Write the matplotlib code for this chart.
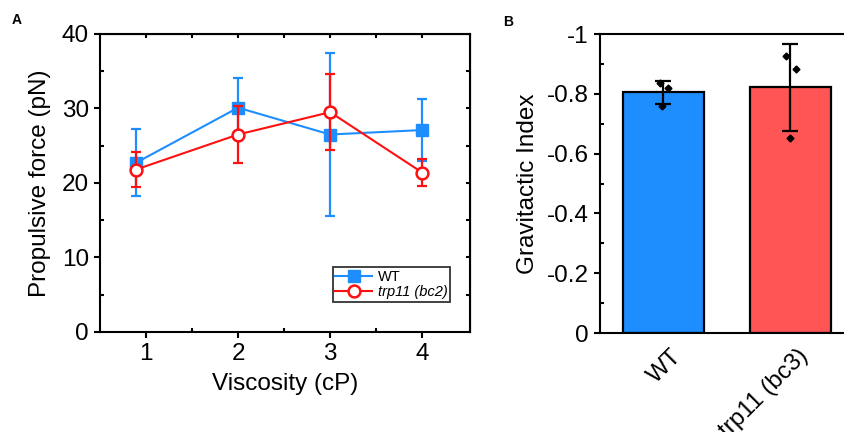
#!/usr/bin/env python3

import numpy as np
import matplotlib
matplotlib.use( 'Agg' )
import matplotlib.pyplot as plt
import matplotlib.transforms as mtransforms

plt.rcParams['font.family'] = [ 'Liberation Sans', 'DejaVu Sans' ]

#### ========== Data ==========

# Panel A: propulsive force vs viscosity
viscosity = [ 0.89, 2.0, 3.0, 4.0 ]
wt_force  = [ 22.7, 30.1, 26.5, 27.1 ]
wt_err    = [ 4.5, 4.0, 10.9, 4.2 ]
mut_force = [ 21.8, 26.5, 29.5, 21.4 ]
mut_err   = [ 2.3, 3.8, 5.1, 1.85 ]

visc_ticks = [ 1, 2, 3, 4 ]
force_ticks = [ 0, 10, 20, 30, 40 ]

# Panel B: gravitactic index
strains    = [ 'WT', 'trp11 (bc3)' ]
gi_mean    = [ -0.805, -0.822 ]
gi_sd      = [ 0.038, 0.145 ]
gi_pts_wt  = [ -0.835, -0.820, -0.759 ]
gi_pts_mut = [ -0.927, -0.882, -0.653 ]
jit_wt     = [ -0.03, 0.035, -0.01 ]
jit_mut    = [ -0.036, 0.04, 0.0 ]

gi_ticks  = [ 0, -0.2, -0.4, -0.6, -0.8, -1.0 ]
gi_labels = [ '0', '-0.2', '-0.4', '-0.6', '-0.8', '-1' ]

blue    = '#1E8EFF'
red     = '#FF1010'
bar_red = '#FF5555'

#### ========== Plotting ==========

fig = plt.figure( figsize = ( 8.44, 4.32 ), dpi = 100 )

### Panel A

axA = fig.add_axes( [ 0.1185, 0.2315, 0.4384, 0.690 ] )

axA.errorbar( viscosity, wt_force, yerr = wt_err, fmt = 'none', \
              ecolor = blue, elinewidth = 1.6, capsize = 3.5, capthick = 1.6 )
axA.plot( viscosity, wt_force, '-s', color = blue, lw = 1.5, \
          ms = 8.5, mfc = blue, mec = blue, label = 'WT' )
axA.errorbar( viscosity, mut_force, yerr = mut_err, fmt = 'none', \
              ecolor = red, elinewidth = 1.6, capsize = 3.5, capthick = 1.6 )
axA.plot( viscosity, mut_force, '-o', color = red, lw = 1.5, \
          ms = 8.5, mfc = 'white', mec = red, mew = 1.8, \
          label = 'trp11 (bc2)' )

axA.set_xlim( 0.5, 4.52 )
axA.set_ylim( 0, 40 )
axA.set_xticks( visc_ticks )
axA.set_xticks( [ 1.5, 2.5, 3.5 ], minor = True )
axA.set_yticks( force_ticks )
axA.set_yticks( [ 5, 15, 25, 35 ], minor = True )
axA.tick_params( which = 'major', direction = 'out', length = 4, width = 1.5, \
                 labelsize = 17.5, pad = 4 )
axA.tick_params( which = 'minor', direction = 'in', length = 3, width = 1.5 )
for s in axA.spines.values():
    s.set_linewidth( 1.5 )

secx = axA.secondary_xaxis( 'top' )
secx.set_xticks( visc_ticks )
secx.set_xticks( [ 1.5, 2.5, 3.5 ], minor = True )
secx.tick_params( which = 'both', direction = 'in', length = 3, width = 1.5, \
                  labeltop = False )
secy = axA.secondary_yaxis( 'right' )
secy.set_yticks( force_ticks )
secy.set_yticks( [ 5, 15, 25, 35 ], minor = True )
secy.tick_params( which = 'both', direction = 'in', length = 3, width = 1.5, \
                  labelright = False )

axA.set_xlabel( 'Viscosity (cP)', fontsize = 17.5, labelpad = 6 )
axA.set_ylabel( 'Propulsive force (pN)', fontsize = 17.5, labelpad = 8 )

leg = axA.legend( loc = 'lower right', bbox_to_anchor = ( 0.947, 0.10 ), \
                  fontsize = 10.5, frameon = True, fancybox = False, \
                  handlelength = 2.5, borderpad = 0.2, labelspacing = 0.1, \
                  handletextpad = 0.4, borderaxespad = 0 )
leg.get_frame().set_edgecolor( 'black' )
leg.get_frame().set_linewidth( 1.3 )
leg.get_texts()[1].set_fontstyle( 'italic' )

fig.text( 0.014, 0.945, 'A', fontsize = 10, fontweight = 'bold' )

### Panel B

axB = fig.add_axes( [ 0.7109, 0.229, 0.4514, 0.692 ] )

xpos = np.arange( 1, len( strains ) + 1 )
axB.bar( xpos, gi_mean, width = 0.64, color = [ blue, bar_red ], \
         edgecolor = 'black', linewidth = 1.6, zorder = 1 )
axB.errorbar( xpos, gi_mean, yerr = gi_sd, fmt = 'none', ecolor = 'black', \
              elinewidth = 1.6, capsize = 6, capthick = 1.6, zorder = 2 )
axB.plot( xpos[0] + np.array( jit_wt ), gi_pts_wt, 'D', color = 'black', \
          ms = 3.5, zorder = 3 )
axB.plot( xpos[1] + np.array( jit_mut ), gi_pts_mut, 'D', color = 'black', \
          ms = 3.5, zorder = 3 )

axB.set_xlim( 0.5, 3.5 )
axB.set_ylim( 0, -1 )
axB.set_yticks( gi_ticks )
axB.set_yticklabels( gi_labels )
axB.set_yticks( [ -0.1, -0.3, -0.5, -0.7, -0.9 ], minor = True )
axB.set_xticks( xpos )
axB.set_xticklabels( strains, rotation = 45, ha = 'right', \
                     rotation_mode = 'anchor' )
axB.tick_params( axis = 'x', length = 0, labelsize = 17.5, pad = 10 )
axB.tick_params( axis = 'y', which = 'major', direction = 'out', length = 4, \
                 width = 1.5, labelsize = 17.5, pad = 4 )
axB.tick_params( axis = 'y', which = 'minor', direction = 'in', length = 3, \
                 width = 1.5 )
for s in axB.spines.values():
    s.set_linewidth( 1.5 )

# nudge the rotated category labels to sit like the original
shift = mtransforms.ScaledTranslation( 7 / 100, 2 / 100, fig.dpi_scale_trans )
for lab in axB.get_xticklabels():
    lab.set_transform( lab.get_transform() + shift )

axB.set_ylabel( 'Gravitactic Index', fontsize = 17.5, labelpad = 6 )

fig.text( 0.596, 0.94, 'B', fontsize = 10, fontweight = 'bold' )

plt.savefig( 'out.png', dpi = 100 )
plt.close()
